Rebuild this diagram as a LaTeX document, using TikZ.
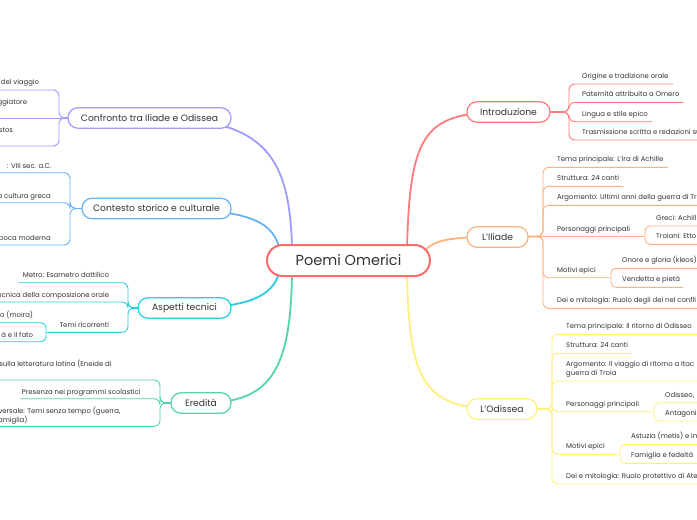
\documentclass[tikz,border=0pt]{standalone}
\usepackage{fontspec}
\setmainfont{Poppins}
\usetikzlibrary{calc}
\definecolor{txt}{HTML}{333333}
\definecolor{cred}{HTML}{FF6B6B}
\definecolor{cintro}{HTML}{FF7A7A}
\definecolor{corange}{HTML}{FFB27F}
\definecolor{cyellow}{HTML}{FFF07C}
\definecolor{clav}{HTML}{A09CFF}
\definecolor{cblue}{HTML}{66B3F5}
\definecolor{ccyan}{HTML}{2CCCDC}
\definecolor{cgreen}{HTML}{52D6A8}
\pgfdeclarelayer{bgzero}
\pgfdeclarelayer{links}
\pgfsetlayers{bgzero,links,main}
\tikzset{
  mainbox/.style={draw, rounded corners=10pt, line width=1.2pt, fill=white, minimum height=20.5pt,
    inner sep=0pt, font=\fontsize{9.2}{11}\selectfont, text=txt},
  centerbox/.style={draw=cred, rounded corners=15.5pt, line width=2pt, fill=white, minimum height=31pt,
    minimum width=163pt, inner sep=0pt, font=\fontsize{14.5}{16}\selectfont, text=txt},
  leafR/.style={inner sep=0pt, anchor=base west, font=\fontsize{6.9}{8}\selectfont, text=txt},
  leafL/.style={inner sep=0pt, anchor=base east, font=\fontsize{6.9}{8}\selectfont, text=txt},
  link/.style={line width=1.8pt},
  stub/.style={line width=1.8pt},
  twig/.style={line width=0.9pt, rounded corners=6pt},
  subtwig/.style={line width=0.9pt, rounded corners=5pt},
}
\begin{document}
\begin{tikzpicture}[x=1pt,y=-1pt]
\begin{pgfonlayer}{bgzero}
\fill[white] (0,0) rectangle (697,520);
\end{pgfonlayer}
\useasboundingbox (0,0) rectangle (697,520);
\clip (0,0) rectangle (697,520);

% ---------- main nodes ----------
\node[centerbox] (center) at (348.5,260.5) {Poemi Omerici};
\node[mainbox, draw=cintro, minimum width=83pt] (intro) at (508.5,112) {Introduzione};
\node[mainbox, draw=corange, minimum width=61pt] (iliade) at (497.5,237) {L’Iliade};
\node[mainbox, draw=cyellow, minimum width=70pt] (odissea) at (502,409) {L’Odissea};
\node[mainbox, draw=clav, minimum width=163pt] (confronto) at (149.5,118) {Confronto tra Iliade e Odissea};
\node[mainbox, draw=cblue, minimum width=149pt] (contesto) at (156.5,208.5) {Contesto storico e culturale};
\node[mainbox, draw=ccyan, minimum width=93pt] (aspetti) at (184.5,308) {Aspetti tecnici};
\node[mainbox, draw=cgreen, minimum width=60pt] (eredita) at (201,403) {Eredità};

% branch points
\coordinate (bI) at (563,112);
\coordinate (bL) at (538,236.5);
\coordinate (bO) at (547,409);
\coordinate (bC) at (64,118);
\coordinate (bS) at (74,208.5);
\coordinate (bA) at (132,308);
\coordinate (bE) at (164,403);

\begin{pgfonlayer}{links}
% ---------- main connectors ----------
\draw[link, cintro] ($(center.north)+(58.5,5)$) .. controls (410,130) and (425,112) .. (intro.center);
\draw[link, corange] ($(center.north east)+(-6,6)$) .. controls (436,240) and (448,237) .. (iliade.center);
\draw[link, cyellow] ($(center.south)+(58.5,-5)$) .. controls (409,385) and (425,409) .. (odissea.center);
\draw[link, clav] ($(center.north)+(-56.5,5)$) .. controls (290,150) and (260,118) .. (confronto.center);
\draw[link, cblue] ($(center.west)+(14,-10)$) .. controls (274,225) and (258,208.5) .. (contesto.center);
\draw[link, ccyan] ($(center.west)+(14,10)$) .. controls (274,292) and (258,308) .. (aspetti.center);
\draw[link, cgreen] ($(center.south)+(-56.5,-5)$) .. controls (291,375) and (268,403) .. (eredita.center);

% ---------- stubs ----------
\draw[stub, cintro] (intro.center) -- (bI);
\draw[stub, corange] (iliade.center) -- (bL);
\draw[stub, cyellow] (odissea.center) -- (bO);
\draw[stub, clav] (confronto.center) -- (bC);
\draw[stub, cblue] (contesto.center) -- (bS);
\draw[stub, ccyan] (aspetti.center) -- (bA);
\draw[stub, cgreen] (eredita.center) -- (bE);
\end{pgfonlayer}

% ---------- Introduzione ----------
\begin{scope}[cintro]
\draw[twig] (bI) -- (569,112) |- (673,84);
\draw[twig] (bI) -- (569,112) |- (683,102.3);
\draw[twig] (bI) -- (569,112) |- (652,121.7);
\draw[twig] (bI) -- (569,112) |- (700,140);
\end{scope}
\node[leafR] (i1) at (582,78.5) {Origine e tradizione orale};
\node[leafR] (i2) at (582,96.8) {Paternità attribuita a Omero};
\node[leafR] (i3) at (582,116.2) {Lingua e stile epico};
\node[leafR] (i4) at (582,134.5) {Trasmissione scritta e redazioni su};

% ---------- L'Iliade ----------
\begin{scope}[corange]
\draw[twig] (bL) -- (543,236.5) |- (668,167.3);
\draw[twig] (bL) -- (543,236.5) |- (623,186.3);
\draw[twig] (bL) -- (543,236.5) |- (700,205.3);
\draw[twig] (bL) -- (644,236.5);
\draw[twig] (bL) -- (543,236.5) |- (610,277.7);
\draw[twig] (bL) -- (543,236.5) |- (700,308.3);
\draw[subtwig] (700,226) -- (645,226) -- (645,244.3) -- (700,244.3);
\draw[subtwig] (700,268.3) -- (611,268.3) -- (611,287.3) -- (683,287.3);
\end{scope}
\node[leafR] (l1) at (557,161.8) {Tema principale: L’ira di Achille};
\node[leafR] (l2) at (557,180.8) {Struttura: 24 canti};
\node[leafR] (l3) at (557,199.8) {Argomento: Ultimi anni della guerra di Tr};
\node[leafR] (l4) at (557,231) {Personaggi principali};
\node[leafR] (l4a) at (656,220.5) {Greci: Achill};
\node[leafR] (l4b) at (656,238.8) {Troiani: Etto};
\node[leafR] (l5) at (557,272.2) {Motivi epici};
\node[leafR] (l5a) at (622,262.8) {Onore e gloria (kleos)};
\node[leafR] (l5b) at (622,281.8) {Vendetta e pietà};
\node[leafR] (l6) at (557,302.8) {Dei e mitologia: Ruolo degli dei nel confli};

% ---------- L'Odissea ----------
\begin{scope}[cyellow]
\draw[twig] (bO) -- (552,409) |- (700,334.3);
\draw[twig] (bO) -- (552,409) |- (632,353.3);
\draw[twig] (bO) -- (552,409) |- (700,381);
\draw[twig] (bO) -- (552,409) |- (653,411.7);
\draw[twig] (bO) -- (552,409) |- (619,454.3);
\draw[twig] (bO) -- (552,409) |- (700,484);
\draw[subtwig] (700,402.7) -- (654,402.7) -- (654,421) -- (700,421);
\draw[subtwig] (700,444.3) -- (620,444.3) -- (620,463.3) -- (700,463.3);
\end{scope}
\node[leafR] (o1) at (566,328.8) {Tema principale: Il ritorno di Odisseo};
\node[leafR] (o2) at (566,347.8) {Struttura: 24 canti};
\node[leafR] (o3a) at (566,366.8) {Argomento: Il viaggio di ritorno a Itac};
\node[leafR] (o3b) at (566,375.8) {guerra di Troia};
\node[leafR] (o4) at (566,406.2) {Personaggi principali};
\node[leafR] (o4a) at (665,397.2) {Odisseo,};
\node[leafR] (o4b) at (665,415.5) {Antagonis};
\node[leafR] (o5) at (566,448.8) {Motivi epici};
\node[leafR] (o5a) at (631,438.8) {Astuzia (metis) e im};
\node[leafR] (o5b) at (631,457.8) {Famiglia e fedeltà};
\node[leafR] (o6) at (566,478.5) {Dei e mitologia: Ruolo protettivo di Ate};

% ---------- Confronto ----------
\begin{scope}[clav]
\draw[twig] (bC) -- (59,118) |- (-3,90);
\draw[twig] (bC) -- (-3,118);
\draw[twig] (bC) -- (59,118) |- (-3,146);
\end{scope}
\node[leafL] (c1) at (39.3,84.5) {del viaggio};
\node[leafL] (c2) at (27.3,104.3) {ggiatore};
\node[leafL] (c3) at (13.3,132.3) {stos};

% ---------- Contesto ----------
\begin{scope}[cblue]
\draw[twig] (bS) -- (70,208.5) |- (-3,172.7);
\draw[twig] (bS) -- (70,208.5) |- (-3,202.7);
\draw[twig] (bS) -- (70,208.5) |- (-3,245);
\end{scope}
\node[leafL] (s1) at (51.7,168) {: VIII sec. a.C.};
\node[leafL] (s2) at (51,198) {a cultura greca};
\node[leafL] (s3) at (51,240.5) {poca moderna};

% ---------- Aspetti tecnici ----------
\begin{scope}[ccyan]
\draw[twig] (bA) -- (128,308) |- (18.3,282.7);
\draw[twig] (bA) -- (128,308) |- (-3,302);
\draw[twig] (bA) -- (128,308) |- (46.7,332.3);
\draw[subtwig] (-3,322.7) -- (46,322.7) -- (46,341.7) -- (-3,341.7);
\end{scope}
\node[leafL] (a1) at (109.3,277.8) {Metro: Esametro dattilico};
\node[leafL] (a2) at (109.3,297) {ecnica della composizione orale};
\node[leafL] (a3) at (109.3,327.5) {Temi ricorrenti};
\node[leafL] (a3a) at (33.3,317.5) {no (moira)};
\node[leafL] (a3b) at (33.3,337) {à e il fato};

% ---------- Eredità ----------
\begin{scope}[cgreen]
\draw[twig] (bE) -- (160,403) |- (-3,380);
\draw[twig] (bE) -- (160,403) |- (20,398.7);
\draw[twig] (bE) -- (160,403) |- (-3,426.3);
\end{scope}
\node[leafL] (e1) at (111.7,366.5) {sulla letteratura latina (Eneide di};
\node[leafL] (e2) at (140.7,394.5) {Presenza nei programmi scolastici};
\node[leafL] (e3a) at (120.7,413.8) {iversale: Temi senza tempo (guerra,};
\node[leafL] (e3b) at (27.7,422.8) {amiglia)};
\end{tikzpicture}
\end{document}
